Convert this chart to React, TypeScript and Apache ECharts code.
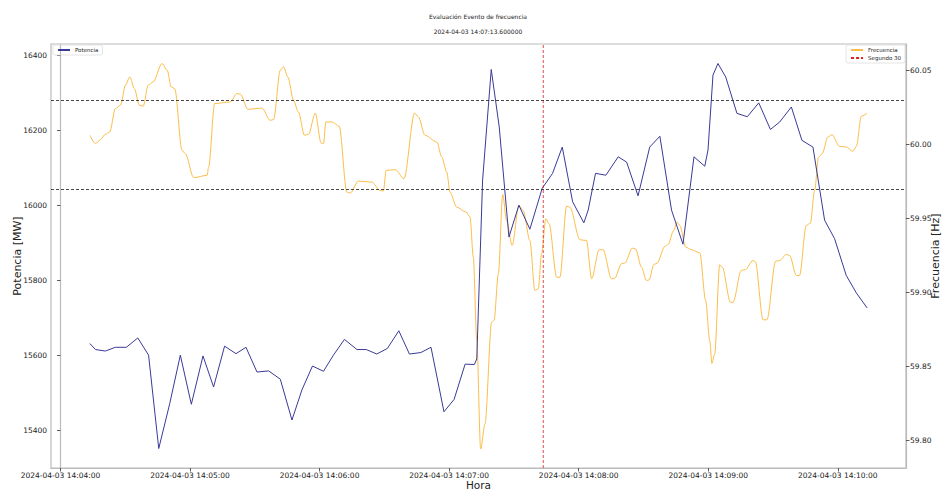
import React, { useEffect, useRef } from "react";
import * as echarts from "echarts";

// time in seconds after 2024-04-03 14:04:00
const EVENT_T = 193.6; // 14:07:13.6
const SEGUNDO_30_T = EVENT_T + 30;

const xTickValues = [0, 60, 120, 180, 240, 300, 360];
const xTickLabels = [
  "2024-04-03 14:04:00",
  "2024-04-03 14:05:00",
  "2024-04-03 14:06:00",
  "2024-04-03 14:07:00",
  "2024-04-03 14:08:00",
  "2024-04-03 14:09:00",
  "2024-04-03 14:10:00",
];
const powerTicks = [15400, 15600, 15800, 16000, 16200, 16400];
const freqTicks = [59.8, 59.85, 59.9, 59.95, 60.0, 60.05];
const bandLimits = [60.03, 59.97];

const powerTimes = [
  13.6, 16.2, 20.8, 25.4, 30.5, 35.8, 40.8, 45.5, 50.6, 55.5, 60.6, 66.0, 70.9, 76.0, 81.3, 85.9,
  91.0, 96.4, 101.8, 107.2, 111.8, 116.7, 121.8, 126.4, 131.5, 137.3, 141.6, 146.5, 151.4, 156.7,
  161.6, 166.9, 171.6, 177.6, 182.3, 187.4, 191.7, 192.8, 195.5, 199.5, 203.2, 207.7, 212.3, 217.4,
  223.1, 227.9, 232.4, 237.2, 242.4, 244.4, 247.8, 252.6, 258.3, 262.2, 267.5, 272.9, 277.6, 283.0,
  288.3, 293.4, 298.4, 299.9, 302.2, 304.5, 308.1, 313.3, 318.1, 323.4, 328.8, 333.1, 338.5, 343.4,
  348.5, 353.9, 358.5, 363.9, 368.6, 373.6,
];
const powerValues = [
  15631, 15615, 15611, 15621, 15621, 15646, 15600, 15351, 15471, 15600, 15469, 15598, 15515, 15624,
  15604, 15621, 15555, 15558, 15536, 15427, 15507, 15571, 15557, 15600, 15642, 15615, 15615, 15603,
  15618, 15665, 15603, 15607, 15621, 15449, 15482, 15576, 15575, 15590, 16067, 16362, 16209, 15915,
  16000, 15936, 16045, 16085, 16155, 16009, 15953, 15987, 16085, 16080, 16129, 16115, 16025, 16155,
  16184, 15987, 15896, 16129, 16104, 16147, 16347, 16378, 16342, 16245, 16236, 16273, 16202, 16222,
  16262, 16173, 16155, 15960, 15911, 15813, 15766, 15726,
];

const freqTimes = [
  13.6, 16.2, 18.5, 20.8, 22.8, 25.4, 27.8, 30.1, 32.1, 34.2, 36.5, 38.3, 40.6, 42.9, 47.0, 49.4,
  51.3, 52.9, 56.3, 57.8, 61.7, 67.9, 68.6, 71.4, 78.6, 81.7, 83.3, 86.8, 93.3, 97.1, 98.7, 101.8,
  103.3, 105.3, 107.9, 110.2, 113.0, 114.9, 118.0, 120.7, 121.8, 122.9, 125.7, 129.1, 132.6, 134.2,
  138.0, 144.2, 148.0, 149.6, 150.8, 155.0, 159.1, 164.0, 165.8, 168.8, 174.3, 176.6, 178.9, 180.4,
  183.5, 187.8, 189.7, 191.2, 192.8, 194.6, 196.6, 199.7, 200.8, 202.8, 204.8, 206.6, 209.2, 212.3,
  214.3, 217.4, 219.7, 221.3, 222.8, 224.8, 226.3, 229.8, 231.3, 234.4, 235.9, 240.6, 243.6, 246.0,
  249.5, 251.3, 255.2, 256.7, 259.8, 261.4, 264.8, 266.3, 269.1, 271.4, 272.6, 274.8, 276.3, 279.9,
  281.4, 284.0, 285.6, 286.8, 289.6, 292.2, 296.1, 298.8, 300.7, 301.7, 303.0, 305.3, 306.5, 310.3,
  311.5, 315.3, 317.2, 320.7, 321.8, 325.4, 327.2, 331.2, 333.1, 336.1, 337.7, 340.8, 342.3, 345.4,
  347.3, 349.3, 351.1, 352.8, 355.4, 357.3, 360.8, 363.9, 367.0, 368.6, 370.9, 373.6,
];
const freqValues = [
  60.0061, 60.0005, 60.0032, 60.0068, 60.0083, 60.0241, 60.0264, 60.0399, 60.0455, 60.0376, 60.0264,
  60.0257, 60.0399, 60.0421, 60.0545, 60.05, 60.0387, 60.0376, 59.9959, 59.9937, 59.9775, 59.9791,
  59.9847, 60.0275, 60.0286, 60.0343, 60.0338, 60.0236, 60.0245, 60.0162, 60.0167, 60.05, 60.0523,
  60.0455, 60.0297, 60.0218, 60.0061, 60.0068, 60.0211, 60.0009, 60.0005, 60.0151, 60.0151, 60.0122,
  59.9678, 59.9671, 59.9752, 59.9745, 59.9689, 59.9685, 59.9824, 59.9829, 59.9768, 60.0211, 60.0184,
  60.0061, 60.0016, 59.9914, 59.9813, 59.9678, 59.9576, 59.9543, 59.9509, 59.9238, 59.8676, 59.7944,
  59.8113, 59.88, 59.8811, 59.9127, 59.9662, 59.9486, 59.9318, 59.9588, 59.9554, 59.9351, 59.9014,
  59.9025, 59.9261, 59.9498, 59.9464, 59.9103, 59.9103, 59.9583, 59.9576, 59.9356, 59.9351, 59.9093,
  59.9289, 59.9289, 59.9093, 59.9097, 59.9194, 59.9199, 59.9299, 59.9295, 59.9171, 59.9081, 59.9085,
  59.9189, 59.9198, 59.9311, 59.9324, 59.9419, 59.9475, 59.9453, 59.9306, 59.9289, 59.9268, 59.8946,
  59.8676, 59.8522, 59.8586, 59.9187, 59.9171, 59.8934, 59.8934, 59.9149, 59.9155, 59.9216, 59.9209,
  59.8816, 59.8816, 59.9211, 59.9216, 59.9257, 59.925, 59.9115, 59.9115, 59.9453, 59.9468, 59.9689,
  59.9914, 59.9937, 60.0049, 60.0065, 59.9986, 59.9982, 59.9953, 59.9986, 60.0189, 60.0211,
];

const X_MIN = -4.4;
const X_MAX = 391.6;
const P_MIN = 15299;
const P_MAX = 16430;
const F_MIN = 59.7816;
const F_MAX = 60.0677;

const FONT = "DejaVu Sans";

export default function App() {
  const ref = useRef<HTMLDivElement>(null);

  useEffect(() => {
    if (!ref.current) return;
    const chart = echarts.init(ref.current, undefined, { renderer: "svg" });
    const tickStyle = { color: "#333", width: 0.8 };
    const legendCommon = {
      orient: "vertical",
      itemWidth: 12,
      itemHeight: 6,
      itemGap: 2,
      padding: [2, 4, 2, 4],
      borderColor: "#ddd",
      borderWidth: 0.8,
      borderRadius: 2,
      itemStyle: { opacity: 0 },
      textStyle: { fontSize: 5.5, color: "#222", fontFamily: FONT },
    };
    const option = {
      animation: false,
      backgroundColor: "#fff",
      textStyle: { fontFamily: FONT },
      graphic: [
        {
          type: "text",
          x: 478,
          y: 16,
          style: {
            text: "Evaluación Evento de frecuencia",
            font: `6px ${FONT}`,
            fill: "#222",
            align: "center",
            verticalAlign: "middle",
          },
        },
        {
          type: "text",
          x: 478,
          y: 31,
          style: {
            text: "2024-04-03 14:07:13.600000",
            font: `6px ${FONT}`,
            fill: "#222",
            align: "center",
            verticalAlign: "middle",
          },
        },
      ],
      legend: [
        { ...legendCommon, data: ["Potencia"], left: 53, top: 45 },
        { ...legendCommon, data: ["Frecuencia", "Segundo 30"], right: 37, top: 45 },
      ],
      grid: {
        left: 51,
        right: 36,
        top: 44,
        bottom: 22,
        show: true,
        borderColor: "#bbb",
        borderWidth: 1.2,
        containLabel: false,
        outerBoundsMode: "none",
      },
      xAxis: {
        type: "value",
        min: X_MIN,
        max: X_MAX,
        name: "Hora",
        nameLocation: "middle",
        nameGap: 11.5,
        nameMoveOverlap: false,
        nameTextStyle: { fontSize: 10.5, color: "#222", fontFamily: FONT },
        axisLine: { show: true, lineStyle: { color: "#bbb", width: 1.2 } },
        axisTick: { show: true, customValues: xTickValues, length: 3.5, lineStyle: tickStyle },
        axisLabel: {
          customValues: xTickValues,
          formatter: (v: number) => {
            const i = xTickValues.indexOf(Math.round(v));
            return i >= 0 ? xTickLabels[i] : "";
          },
          fontSize: 7.5,
          color: "#222",
          margin: 3,
          fontFamily: FONT,
        },
        splitLine: { show: false },
      },
      yAxis: [
        {
          type: "value",
          position: "left",
          min: P_MIN,
          max: P_MAX,
          name: "Potencia [MW]",
          nameLocation: "middle",
          nameGap: 28,
          nameMoveOverlap: false,
          nameTextStyle: { fontSize: 11, color: "#222", fontFamily: FONT },
          axisLine: { show: true, lineStyle: { color: "#bbb", width: 1.2 } },
          axisTick: { show: true, customValues: powerTicks, length: 3.5, lineStyle: tickStyle },
          axisLabel: {
            customValues: powerTicks,
            formatter: (v: number) => String(Math.round(v)),
            fontSize: 7.5,
            color: "#222",
            margin: 4,
            fontFamily: FONT,
          },
          splitLine: { show: false },
        },
        {
          type: "value",
          position: "right",
          min: F_MIN,
          max: F_MAX,
          name: "Frecuencia [Hz]",
          nameLocation: "middle",
          nameGap: 24,
          nameMoveOverlap: false,
          nameTextStyle: { fontSize: 11, color: "#222", fontFamily: FONT },
          axisLine: { show: true, lineStyle: { color: "#bbb", width: 1.2 } },
          axisTick: { show: true, customValues: freqTicks, length: 3.5, lineStyle: tickStyle },
          axisLabel: {
            customValues: freqTicks,
            formatter: (v: number) => v.toFixed(2),
            fontSize: 7.5,
            color: "#222",
            margin: 4,
            fontFamily: FONT,
          },
          splitLine: { show: false },
        },
      ],
      series: [
        {
          name: "Potencia",
          type: "line",
          yAxisIndex: 0,
          data: powerTimes.map((t, i) => [t, powerValues[i]]),
          symbol: "none",
          color: "#3a3a98",
          lineStyle: { color: "#3a3a98", width: 1 },
          z: 3,
        },
        {
          name: "Frecuencia",
          type: "line",
          yAxisIndex: 1,
          data: freqTimes.map((t, i) => [t, freqValues[i]]),
          symbol: "none",
          smooth: 0.3,
          smoothMonotone: "x",
          color: "#fbbd4a",
          lineStyle: { color: "#fbbd4a", width: 1 },
          z: 2,
          markLine: {
            silent: true,
            symbol: ["none", "none"],
            label: { show: false },
            lineStyle: { color: "#333", type: [3, 2], width: 0.9 },
            data: bandLimits.map((v) => ({ yAxis: v })),
          },
        },
        {
          name: "Segundo 30",
          type: "line",
          yAxisIndex: 1,
          data: [
            [SEGUNDO_30_T, F_MIN],
            [SEGUNDO_30_T, F_MAX],
          ],
          symbol: "none",
          color: "#e02020",
          lineStyle: { color: "#e02020", width: 0.8, type: [3, 2] },
          z: 4,
        },
      ],
    };
    chart.setOption(option as any);
    return () => chart.dispose();
  }, []);

  return (
    <div
      ref={ref}
      style={{ position: "fixed", left: 0, top: 0, width: 942, height: 490 }}
    />
  );
}
